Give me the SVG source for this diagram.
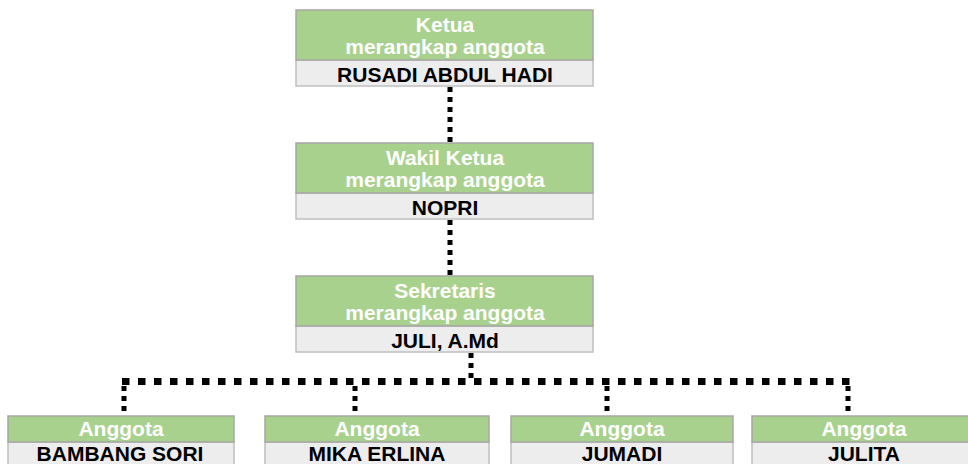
<svg xmlns="http://www.w3.org/2000/svg" width="968" height="464" viewBox="0 0 968 464">
<style>
.hd{fill:#A9D18E;stroke:#A6A6A6;stroke-width:1.5}
.nm{fill:#EDEDED;stroke:#BFBFBF;stroke-width:1.5}
.tl{font-family:"Liberation Sans",Arial,sans-serif;font-weight:bold;font-size:21px;fill:#FFFFFF;text-anchor:middle}
.tn{font-family:"Liberation Sans",Arial,sans-serif;font-weight:bold;font-size:21px;fill:#000000;text-anchor:middle}
.cv{stroke:#000;stroke-width:5;stroke-dasharray:5 5;fill:none}
.ch{stroke:#000;stroke-width:7;stroke-dasharray:7.5 8.5;fill:none}
</style>
<rect width="968" height="464" fill="#FFFFFF"/>
<g id="connectors">
<line class="cv" x1="450" y1="87" x2="450" y2="143"/>
<line class="cv" x1="450" y1="220" x2="450" y2="276"/>
<line class="cv" x1="471" y1="353" x2="471" y2="378"/>
<line class="ch" x1="122" y1="381.5" x2="851" y2="381.5"/>
<line class="cv" x1="124" y1="386" x2="124" y2="416"/>
<line class="cv" x1="355" y1="386" x2="355" y2="416"/>
<line class="cv" x1="607" y1="386" x2="607" y2="416"/>
<line class="cv" x1="848" y1="386" x2="848" y2="416"/>
</g>
<g id="ketua">
<rect class="nm" x="296" y="60" width="297" height="26"/>
<rect class="hd" x="296" y="10" width="297" height="50"/>
<text class="tl" x="445" y="32">Ketua</text>
<text class="tl" x="445" y="54">merangkap anggota</text>
<text class="tn" x="445" y="82">RUSADI ABDUL HADI</text>
</g>
<g id="wakil">
<rect class="nm" x="296" y="193" width="297" height="26"/>
<rect class="hd" x="296" y="143" width="297" height="50"/>
<text class="tl" x="445" y="165">Wakil Ketua</text>
<text class="tl" x="445" y="187">merangkap anggota</text>
<text class="tn" x="445" y="215">NOPRI</text>
</g>
<g id="sekretaris">
<rect class="nm" x="296" y="326" width="297" height="26"/>
<rect class="hd" x="296" y="276" width="297" height="50"/>
<text class="tl" x="445" y="298">Sekretaris</text>
<text class="tl" x="445" y="320">merangkap anggota</text>
<text class="tn" x="445" y="348">JULI, A.Md</text>
</g>
<g id="anggota1">
<rect class="nm" x="8" y="442" width="226" height="30"/>
<rect class="hd" x="8" y="416" width="226" height="26"/>
<text class="tl" x="121" y="436">Anggota</text>
<text class="tn" x="120" y="461">BAMBANG SORI</text>
</g>
<g id="anggota2">
<rect class="nm" x="265" y="442" width="224" height="30"/>
<rect class="hd" x="265" y="416" width="224" height="26"/>
<text class="tl" x="377" y="436">Anggota</text>
<text class="tn" x="377" y="461">MIKA ERLINA</text>
</g>
<g id="anggota3">
<rect class="nm" x="511" y="442" width="222" height="30"/>
<rect class="hd" x="511" y="416" width="222" height="26"/>
<text class="tl" x="622" y="436">Anggota</text>
<text class="tn" x="622" y="461">JUMADI</text>
</g>
<g id="anggota4">
<rect class="nm" x="752" y="442" width="224" height="30"/>
<rect class="hd" x="752" y="416" width="224" height="26"/>
<text class="tl" x="864" y="436">Anggota</text>
<text class="tn" x="864" y="461">JULITA</text>
</g>
</svg>
